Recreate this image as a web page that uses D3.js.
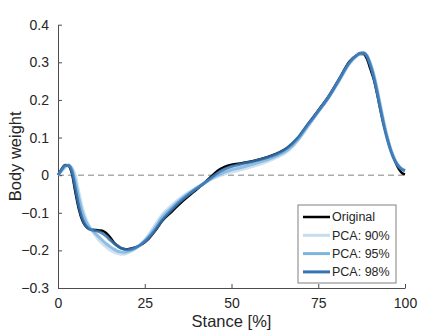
<!DOCTYPE html>
<html>
<head>
<meta charset="utf-8">
<script src="https://cdn.jsdelivr.net/npm/d3@7"></script>
<style>
  body { margin: 0; background: #fff; }
  text { font-family: "Liberation Sans", Arial, Helvetica, sans-serif; fill: #262626; }
</style>
</head>
<body>
<script>
// stance samples (%)
var stance = [0,1,2,3,4,5,6,7,8,9,10,11,12,13,14,15,16,17,18,19,20,22,24,26,28,30,33,36,39,42,44,46,48,50,53,56,60,63,66,69,72,75,78,81,84,86,87,88,89,90,91,92,93,94,95,96,97,98,99,100];

var original = [0,0.015,0.027,0.025,0.005,-0.045,-0.09,-0.12,-0.136,-0.143,-0.145,-0.146,-0.147,-0.149,-0.155,-0.165,-0.178,-0.187,-0.193,-0.196,-0.197,-0.193,-0.185,-0.17,-0.148,-0.122,-0.095,-0.068,-0.045,-0.022,-0.005,0.012,0.022,0.028,0.032,0.037,0.047,0.057,0.072,0.097,0.135,0.172,0.21,0.255,0.302,0.318,0.322,0.322,0.31,0.283,0.255,0.215,0.17,0.13,0.097,0.065,0.04,0.02,0.007,0.002];

var pca90 = [0,0.01,0.02,0.026,0.02,0.0,-0.045,-0.085,-0.115,-0.135,-0.15,-0.163,-0.175,-0.184,-0.192,-0.199,-0.204,-0.208,-0.21,-0.21,-0.207,-0.198,-0.182,-0.16,-0.132,-0.105,-0.078,-0.055,-0.038,-0.022,-0.012,-0.004,0.003,0.008,0.015,0.023,0.035,0.047,0.062,0.09,0.128,0.168,0.206,0.25,0.295,0.316,0.323,0.326,0.32,0.3,0.27,0.23,0.185,0.14,0.1,0.068,0.044,0.028,0.018,0.013];

var pca95 = [0,0.012,0.023,0.027,0.016,-0.015,-0.06,-0.098,-0.123,-0.138,-0.148,-0.157,-0.166,-0.175,-0.183,-0.19,-0.196,-0.201,-0.204,-0.205,-0.203,-0.196,-0.183,-0.164,-0.139,-0.112,-0.084,-0.06,-0.04,-0.022,-0.01,0.0,0.008,0.014,0.021,0.029,0.04,0.051,0.066,0.093,0.131,0.169,0.207,0.252,0.298,0.317,0.323,0.325,0.318,0.296,0.265,0.224,0.178,0.134,0.096,0.065,0.042,0.026,0.017,0.012];

var pca98 = [0,0.014,0.026,0.026,0.01,-0.035,-0.082,-0.115,-0.134,-0.143,-0.146,-0.148,-0.151,-0.156,-0.163,-0.172,-0.18,-0.187,-0.193,-0.197,-0.198,-0.194,-0.184,-0.168,-0.146,-0.12,-0.09,-0.064,-0.042,-0.022,-0.008,0.006,0.016,0.023,0.03,0.036,0.046,0.056,0.072,0.098,0.135,0.17,0.208,0.254,0.3,0.318,0.324,0.325,0.316,0.292,0.26,0.218,0.172,0.128,0.092,0.062,0.04,0.025,0.016,0.012];

var seriesNames = ["Original", "PCA: 90%", "PCA: 95%", "PCA: 98%"];
var seriesColors = ["#000000", "#c6dcef", "#7db4de", "#3573b2"];

var xTicks = [0, 25, 50, 75, 100];
var yTicks = [-0.3, -0.2, -0.1, 0, 0.1, 0.2, 0.3, 0.4];

var width = 448, height = 336;
var margin = {top: 24.7, right: 43, bottom: 48, left: 58};

var svg = d3.select("body").append("svg")
    .attr("width", width)
    .attr("height", height);

var x = d3.scaleLinear().domain([0, 100]).range([margin.left, width - margin.right]);
var y = d3.scaleLinear().domain([-0.3, 0.4]).range([height - margin.bottom, margin.top]);

// zero reference line
svg.append("line")
    .attr("x1", x(0)).attr("x2", x(100))
    .attr("y1", y(0)).attr("y2", y(0))
    .attr("stroke", "#808080")
    .attr("stroke-width", 1)
    .attr("stroke-dasharray", "6,4");

// axes (ticks inward, MATLAB style)
var xAxis = svg.append("g")
    .attr("transform", "translate(0," + y(-0.3) + ")")
    .call(d3.axisBottom(x).tickValues(xTicks).tickSize(-4).tickPadding(10).tickSizeOuter(0));
var yAxis = svg.append("g")
    .attr("transform", "translate(" + x(0) + ",0)")
    .call(d3.axisLeft(y).tickValues(yTicks).tickSize(-4).tickPadding(9).tickSizeOuter(0)
        .tickFormat(function (d) { return d === 0 ? "0" : d3.format(".1f")(d); }));

[xAxis, yAxis].forEach(function (g) {
    g.select(".domain").attr("stroke", "#4d4d4d");
    g.selectAll(".tick line").attr("stroke", "#4d4d4d");
    g.selectAll(".tick text")
        .style("font-family", "'Liberation Sans', Arial, Helvetica, sans-serif")
        .style("font-size", "14px")
        .attr("fill", "#262626");
});

// curves
var line = d3.line()
    .x(function (d) { return x(d[0]); })
    .y(function (d) { return y(d[1]); })
    .curve(d3.curveMonotoneX);

var allSeries = [original, pca90, pca95, pca98];
allSeries.forEach(function (vals, k) {
    var pts = stance.map(function (s, i) { return [s, vals[i]]; });
    svg.append("path")
        .attr("d", line(pts))
        .attr("fill", "none")
        .attr("stroke", seriesColors[k])
        .attr("stroke-width", k === 0 ? 2.5 : 3)
        .attr("stroke-opacity", k === 0 ? 1 : 0.85)
        .attr("stroke-linejoin", "round");
});

// axis titles
svg.append("text")
    .attr("x", x(50))
    .attr("y", 327)
    .attr("text-anchor", "middle")
    .style("font-size", "16.5px")
    .text("Stance [%]");

svg.append("text")
    .attr("transform", "translate(21," + y(0.05) + ") rotate(-90)")
    .attr("text-anchor", "middle")
    .style("font-size", "16.5px")
    .text("Body weight");

// legend
var legend = svg.append("g");
legend.append("rect")
    .attr("x", 298).attr("y", 205)
    .attr("width", 98).attr("height", 78)
    .attr("fill", "#fff")
    .attr("stroke", "#808080")
    .attr("stroke-width", 1);

seriesNames.forEach(function (name, i) {
    var ly = 217 + i * 18.3;
    legend.append("line")
        .attr("x1", 303).attr("x2", 330)
        .attr("y1", ly).attr("y2", ly)
        .attr("stroke", seriesColors[i])
        .attr("stroke-width", i === 0 ? 2.5 : 3);
    legend.append("text")
        .attr("x", 332)
        .attr("y", ly)
        .attr("dy", "0.35em")
        .style("font-size", "12.5px")
        .text(name);
});
</script>
</body>
</html>
